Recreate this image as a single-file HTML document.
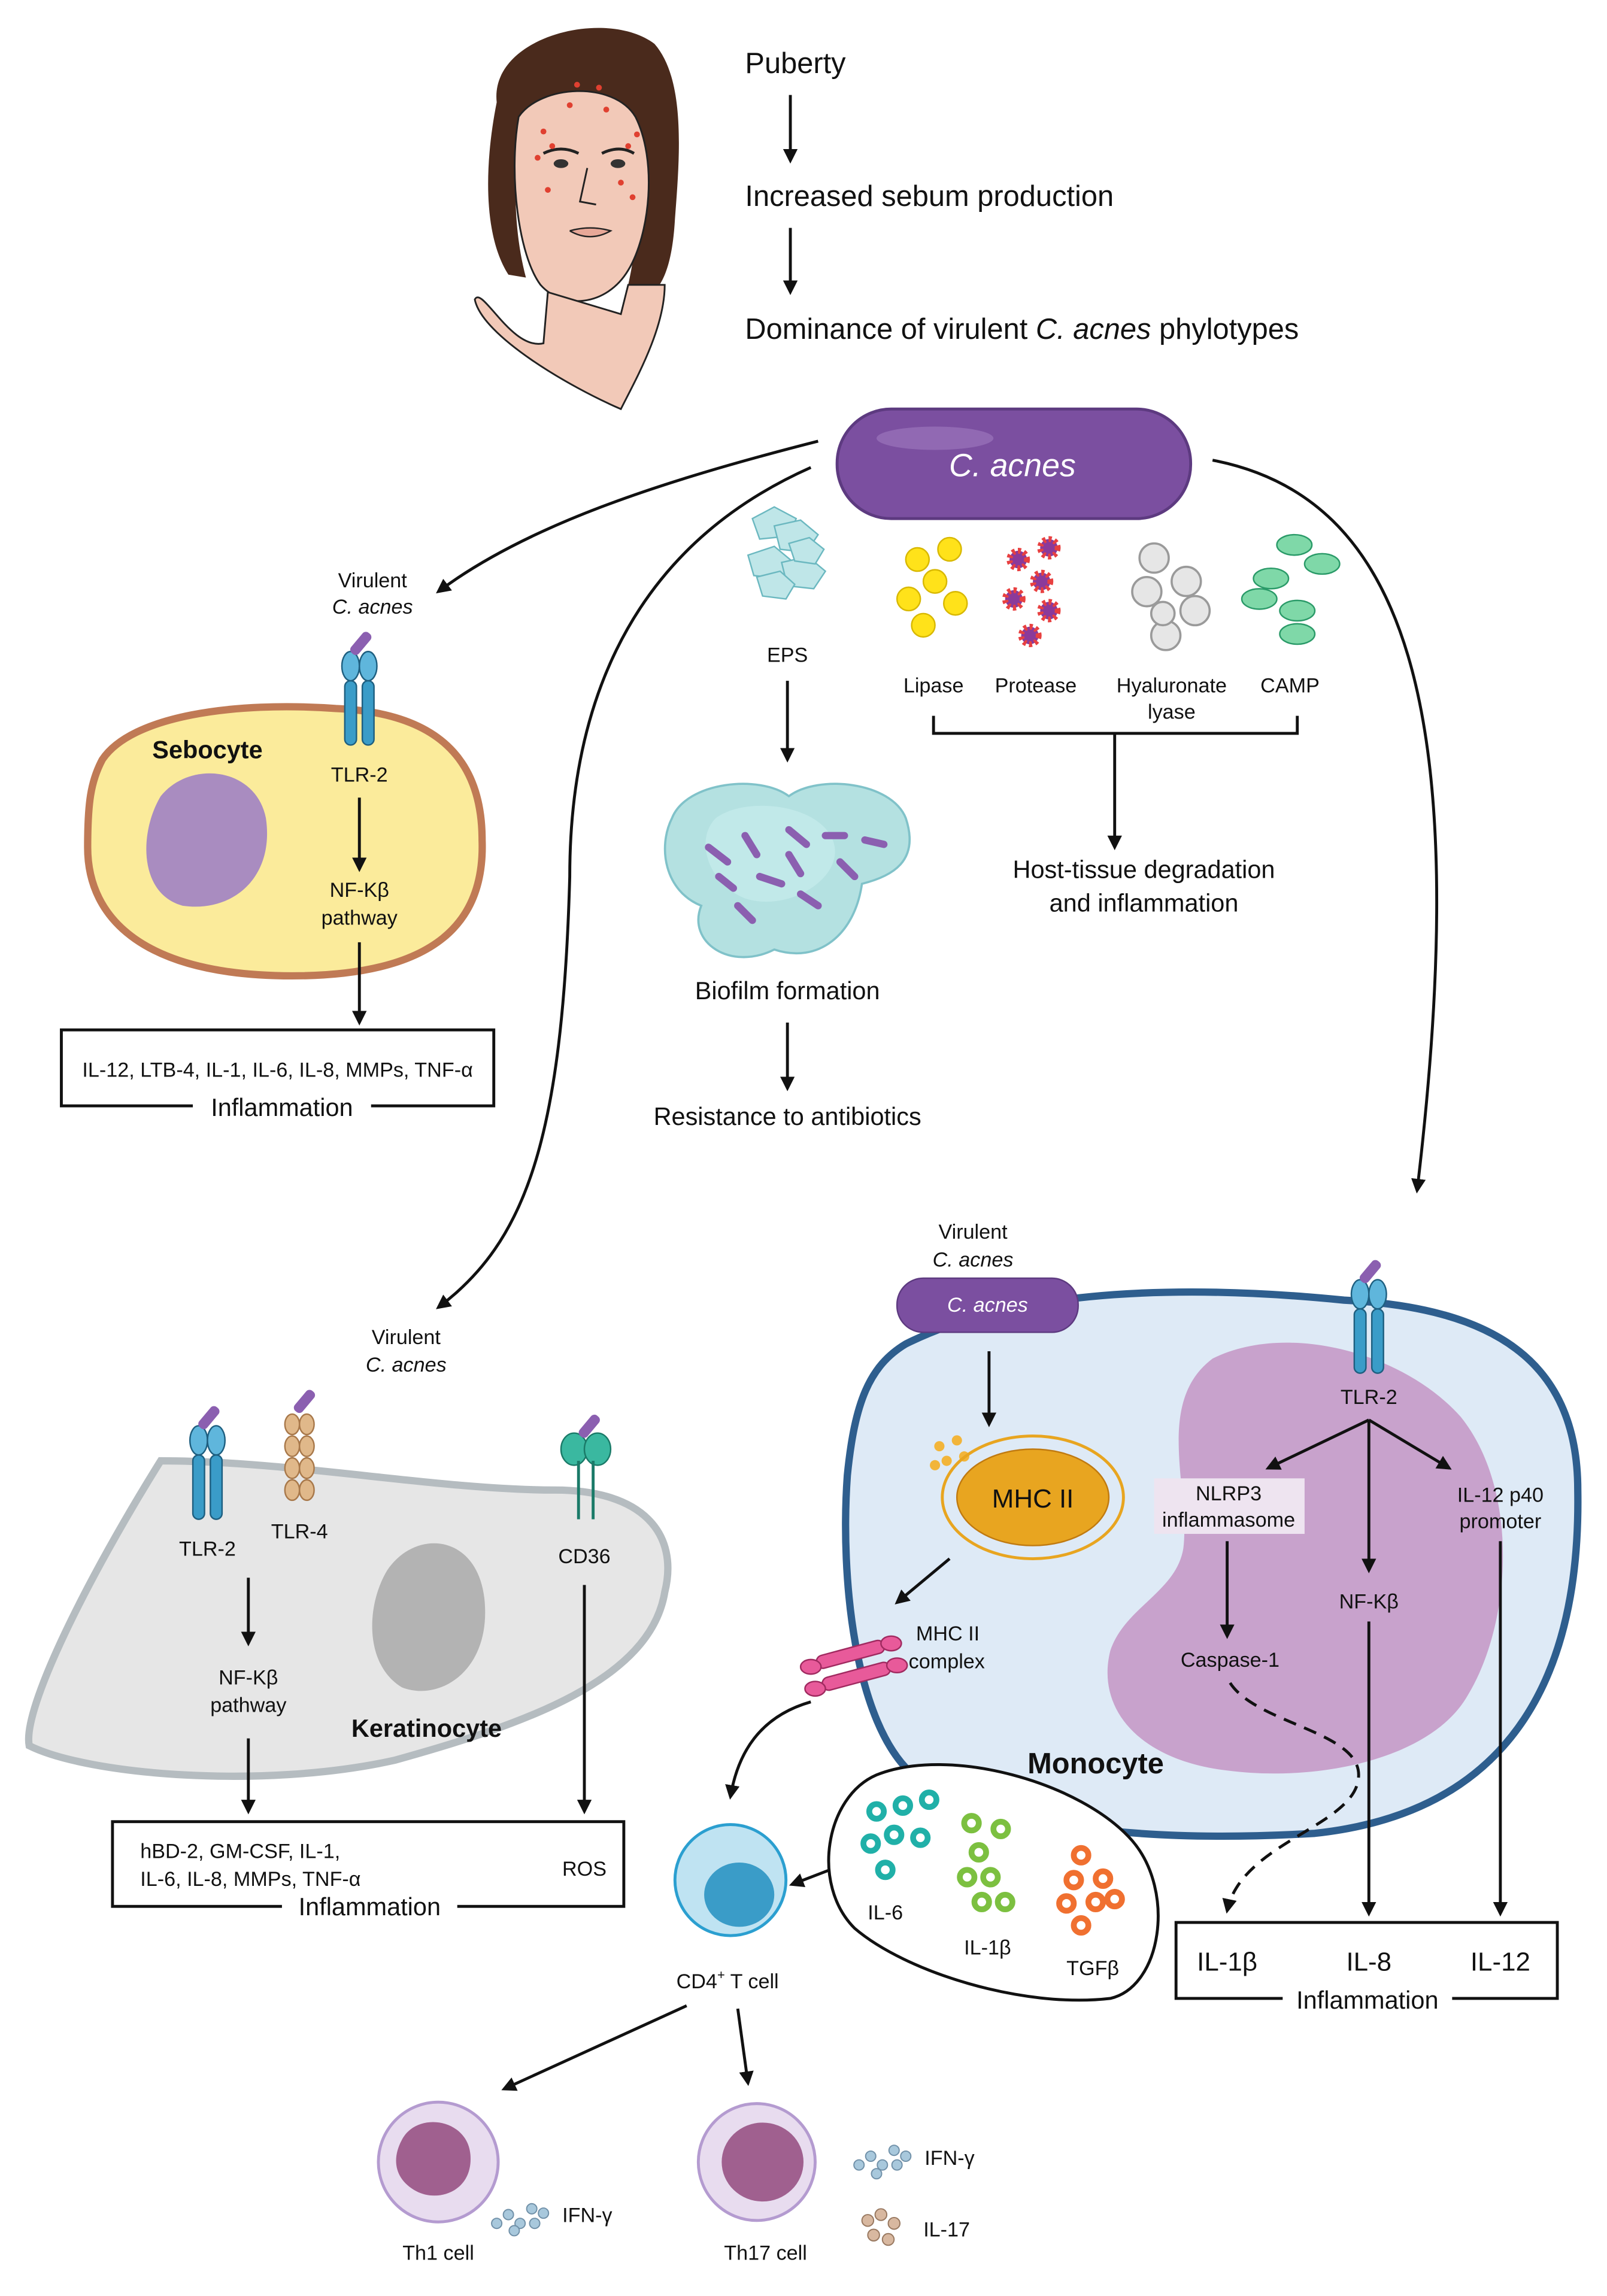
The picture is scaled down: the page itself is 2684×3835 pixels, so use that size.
<!DOCTYPE html>
<html><head><meta charset="utf-8"><style>
html,body{margin:0;padding:0;background:#fff;}
svg{display:block;}
text{font-family:"Liberation Sans",sans-serif;fill:#111;}
</style></head><body>
<svg width="2684" height="3835" viewBox="0 0 1100 1571.7" xmlns="http://www.w3.org/2000/svg">
<defs>
<marker id="ah" markerWidth="10" markerHeight="10" refX="8" refY="5" orient="auto" markerUnits="userSpaceOnUse">
<path d="M0,0 L10,5 L0,10 Z" fill="#111"/></marker>
<g id="tlr">
<rect x="-10" y="-4" width="8" height="44" rx="4" fill="#3a9cc8" stroke="#1e5f80" stroke-width="1"/>
<rect x="2" y="-4" width="8" height="44" rx="4" fill="#3a9cc8" stroke="#1e5f80" stroke-width="1"/>
<ellipse cx="-6" cy="-14" rx="6" ry="10" fill="#5fb6dc" stroke="#1e5f80" stroke-width="1"/>
<ellipse cx="6" cy="-14" rx="6" ry="10" fill="#5fb6dc" stroke="#1e5f80" stroke-width="1"/>
<rect x="-2" y="-38" width="7" height="18" rx="3" fill="#8b5fb0" transform="rotate(40 2 -30)"/>
</g>
<g id="dot"><circle r="5" fill="none" stroke-width="4"/></g>
</defs>

<!-- Face -->
<path d="M340,70 C335,25 415,5 448,30 C470,55 465,110 462,150 C460,185 452,200 440,205 L430,195 C440,150 440,100 425,75 C405,58 372,62 358,82 C350,120 352,160 360,190 L348,188 C330,160 332,110 340,70Z" fill="#4a2a1c"/>
<path d="M355,80 C370,58 420,55 435,80 C450,110 445,160 430,185 C415,210 385,212 370,195 C355,175 348,120 355,80Z" fill="#f2c9b8" stroke="#222" stroke-width="1.2"/>
<path d="M375,200 L372,235 C350,240 330,195 325,205 C330,230 390,265 425,280 C435,260 455,225 455,195 L430,195 L425,215 Z" fill="#f2c9b8" stroke="#222" stroke-width="1.2"/>
<path d="M372,105 q12,-6 24,0 M412,105 q12,-6 22,0" stroke="#222" stroke-width="2" fill="none"/>
<ellipse cx="384" cy="112" rx="5" ry="3" fill="#333"/><ellipse cx="423" cy="112" rx="5" ry="3" fill="#333"/>
<path d="M402,115 L397,138 L408,140" stroke="#222" fill="none" stroke-width="1.2"/>
<path d="M390,158 q14,8 28,0 q-14,-4 -28,0" stroke="#222" fill="#e8a898" stroke-width="1"/>
<g fill="#e04030"><circle cx="395" cy="58" r="2"/><circle cx="410" cy="60" r="2"/><circle cx="390" cy="72" r="2"/><circle cx="415" cy="75" r="2"/><circle cx="372" cy="90" r="2"/><circle cx="378" cy="100" r="2"/><circle cx="368" cy="108" r="2"/><circle cx="430" cy="100" r="2"/><circle cx="436" cy="92" r="2"/><circle cx="425" cy="125" r="2"/><circle cx="433" cy="135" r="2"/><circle cx="375" cy="130" r="2"/></g>

<!-- Top text -->
<g font-size="20">
<text x="510" y="50">Puberty</text>
<text x="510" y="141">Increased sebum production</text>
<text x="510" y="232">Dominance of virulent <tspan font-style="italic">C. acnes</tspan> phylotypes</text>
</g>
<line x1="541" y1="65" x2="541" y2="110" stroke="#111" stroke-width="2" marker-end="url(#ah)"/>
<line x1="541" y1="156" x2="541" y2="200" stroke="#111" stroke-width="2" marker-end="url(#ah)"/>

<!-- C. acnes pill -->
<rect x="573" y="280" width="242" height="75" rx="37" fill="#7b4fa0" stroke="#5d3a80" stroke-width="2"/>
<ellipse cx="640" cy="300" rx="40" ry="8" fill="#a07cc0" opacity="0.6"/>
<text x="693" y="326" font-size="22" font-style="italic" text-anchor="middle" style="fill:#fff">C. acnes</text>

<!-- Big curves -->
<g fill="none" stroke="#111" stroke-width="2" marker-end="url(#ah)">
<path d="M560,302 C450,330 360,360 300,405"/>
<path d="M830,315 C960,340 1010,480 970,815"/>
<path d="M555,320 C420,380 390,500 390,600 C385,780 360,850 300,895"/>
</g>

<!-- EPS -->
<g fill="#bfe6e8" stroke="#6bb8c0" stroke-width="1">
<path d="M515,355 l15,-8 15,8 -5,12 -20,2z"/><path d="M530,360 l18,-4 12,10 -8,12 -18,-2z"/>
<path d="M512,380 l18,-6 12,10 -6,12 -20,-2z"/><path d="M535,385 l18,-4 12,10 -8,12 -18,-2z"/>
<path d="M518,395 l16,-4 10,9 -6,10 -16,-2z"/><path d="M540,372 l14,-4 10,8 -6,10 -14,-2z"/>
</g>
<text x="539" y="453" font-size="14" text-anchor="middle">EPS</text>
<line x1="539" y1="466" x2="539" y2="520" stroke="#111" stroke-width="2" marker-end="url(#ah)"/>

<!-- Biofilm -->
<path d="M460,560 C470,535 520,530 540,545 C560,530 610,535 620,560 C630,590 610,600 590,605 C585,640 560,660 530,650 C500,665 470,645 480,620 C455,610 450,580 460,560Z" fill="#a8dcdc" stroke="#6bb8c0" stroke-width="1.5" opacity="0.85"/>
<path d="M490,560 C510,545 560,550 570,575 C580,600 540,625 510,615 C485,605 475,575 490,560Z" fill="#c6ecec" opacity="0.7"/>
<g stroke="#8b5fb0" stroke-width="5" stroke-linecap="round">
<line x1="485" y1="580" x2="498" y2="590"/><line x1="510" y1="572" x2="518" y2="585"/><line x1="540" y1="568" x2="552" y2="578"/>
<line x1="565" y1="572" x2="578" y2="572"/><line x1="592" y1="575" x2="605" y2="578"/><line x1="520" y1="600" x2="535" y2="605"/>
<line x1="548" y1="612" x2="560" y2="620"/><line x1="575" y1="590" x2="585" y2="600"/><line x1="505" y1="620" x2="515" y2="630"/>
<line x1="540" y1="585" x2="548" y2="598"/><line x1="492" y1="600" x2="502" y2="608"/>
</g>
<text x="539" y="684" font-size="17" text-anchor="middle">Biofilm formation</text>
<line x1="539" y1="700" x2="539" y2="745" stroke="#111" stroke-width="2" marker-end="url(#ah)"/>
<text x="539" y="770" font-size="17" text-anchor="middle">Resistance to antibiotics</text>

<!-- Lipase -->
<g fill="#ffe21a" stroke="#d8b800" stroke-width="1">
<circle cx="628" cy="383" r="8"/><circle cx="650" cy="376" r="8"/><circle cx="640" cy="398" r="8"/><circle cx="622" cy="410" r="8"/><circle cx="654" cy="413" r="8"/><circle cx="632" cy="428" r="8"/>
</g>
<!-- Protease -->
<g fill="#8b3a9a" stroke="#e84040" stroke-width="4" stroke-dasharray="2 2">
<circle cx="697" cy="383" r="6"/><circle cx="718" cy="375" r="6"/><circle cx="713" cy="398" r="6"/><circle cx="694" cy="410" r="6"/><circle cx="718" cy="418" r="6"/><circle cx="705" cy="435" r="6"/>
</g>
<!-- Hyaluronate -->
<g fill="#e6e6e6" stroke="#9a9a9a" stroke-width="1.5">
<circle cx="790" cy="382" r="10"/><circle cx="785" cy="405" r="10"/><circle cx="812" cy="398" r="10"/><circle cx="818" cy="418" r="10"/><circle cx="798" cy="435" r="10"/><circle cx="796" cy="420" r="8"/>
</g>
<!-- CAMP -->
<g fill="#7fd8a8" stroke="#2a9a68" stroke-width="1">
<ellipse cx="886" cy="373" rx="12" ry="7"/><ellipse cx="905" cy="386" rx="12" ry="7"/><ellipse cx="870" cy="396" rx="12" ry="7"/>
<ellipse cx="862" cy="410" rx="12" ry="7"/><ellipse cx="888" cy="418" rx="12" ry="7"/><ellipse cx="888" cy="434" rx="12" ry="7"/>
</g>
<g font-size="14" text-anchor="middle">
<text x="639" y="474">Lipase</text><text x="709" y="474">Protease</text><text x="802" y="474">Hyaluronate</text><text x="802" y="492">lyase</text><text x="883" y="474">CAMP</text>
</g>
<path d="M639,490 L639,502 L888,502 L888,490" fill="none" stroke="#111" stroke-width="2"/>
<line x1="763" y1="502" x2="763" y2="580" stroke="#111" stroke-width="2" marker-end="url(#ah)"/>
<text x="783" y="601" font-size="17" text-anchor="middle">Host-tissue degradation</text>
<text x="783" y="624" font-size="17" text-anchor="middle">and inflammation</text>

<!-- Sebocyte -->
<text x="255" y="402" font-size="14" text-anchor="middle">Virulent</text>
<text x="255" y="420" font-size="14" text-anchor="middle" font-style="italic">C. acnes</text>
<path d="M70,520 C90,490 160,480 230,485 C300,488 330,520 330,575 C332,630 300,668 200,668 C100,668 60,630 60,580 C60,550 62,535 70,520Z" fill="#fbeb9b" stroke="#c07a55" stroke-width="5"/>
<path d="M110,545 C130,520 175,525 182,560 C188,600 160,625 125,620 C95,612 95,570 110,545Z" fill="#a98cc0"/>
<text x="142" y="519" font-size="17" font-weight="bold" text-anchor="middle">Sebocyte</text>
<use href="#tlr" x="246" y="470"/>
<text x="246" y="535" font-size="14" text-anchor="middle">TLR-2</text>
<line x1="246" y1="546" x2="246" y2="595" stroke="#111" stroke-width="2" marker-end="url(#ah)"/>
<text x="246" y="614" font-size="14" text-anchor="middle">NF-Kβ</text>
<text x="246" y="633" font-size="14" text-anchor="middle">pathway</text>
<line x1="246" y1="645" x2="246" y2="700" stroke="#111" stroke-width="2" marker-end="url(#ah)"/>
<rect x="42" y="705" width="296" height="52" fill="#fff" stroke="#111" stroke-width="2"/>
<text x="190" y="737" font-size="14" text-anchor="middle">IL-12, LTB-4, IL-1, IL-6, IL-8, MMPs, TNF-α</text>
<rect x="132" y="748" width="122" height="20" fill="#fff"/>
<text x="193" y="764" font-size="17" text-anchor="middle">Inflammation</text>

<!-- Keratinocyte -->
<text x="278" y="920" font-size="14" text-anchor="middle">Virulent</text>
<text x="278" y="939" font-size="14" text-anchor="middle" font-style="italic">C. acnes</text>
<path d="M110,1000 C200,1000 300,1020 380,1020 C440,1020 465,1050 455,1090 C445,1150 360,1180 270,1205 C180,1225 60,1215 20,1195 C15,1170 60,1080 110,1000Z" fill="#e6e6e6" stroke="#b5bcc0" stroke-width="5"/>
<path d="M265,1075 C285,1045 330,1050 332,1100 C334,1145 300,1165 275,1155 C250,1140 250,1100 265,1075Z" fill="#b3b3b3"/>
<text x="292" y="1189" font-size="17" font-weight="bold" text-anchor="middle">Keratinocyte</text>
<use href="#tlr" x="142" y="1000"/>
<g fill="#e0b88a" stroke="#a8784a" stroke-width="1">
<ellipse cx="200" cy="975" rx="5" ry="7"/><ellipse cx="210" cy="975" rx="5" ry="7"/>
<ellipse cx="200" cy="990" rx="5" ry="7"/><ellipse cx="210" cy="990" rx="5" ry="7"/>
<ellipse cx="200" cy="1005" rx="5" ry="7"/><ellipse cx="210" cy="1005" rx="5" ry="7"/>
<ellipse cx="200" cy="1020" rx="5" ry="7"/><ellipse cx="210" cy="1020" rx="5" ry="7"/>
</g>
<rect x="205" y="950" width="7" height="18" rx="3" fill="#8b5fb0" transform="rotate(40 208 959)"/>
<g>
<ellipse cx="393" cy="992" rx="9" ry="11" fill="#3ab8a0" stroke="#1a7a68"/><ellipse cx="409" cy="992" rx="9" ry="11" fill="#3ab8a0" stroke="#1a7a68"/>
<line x1="396" y1="1000" x2="396" y2="1040" stroke="#1a7a68" stroke-width="2"/><line x1="406" y1="1000" x2="406" y2="1040" stroke="#1a7a68" stroke-width="2"/>
<rect x="400" y="967" width="7" height="18" rx="3" fill="#8b5fb0" transform="rotate(40 403 976)"/>
</g>
<g font-size="14" text-anchor="middle">
<text x="142" y="1065">TLR-2</text><text x="205" y="1053">TLR-4</text><text x="400" y="1070">CD36</text>
<text x="170" y="1153">NF-Kβ</text><text x="170" y="1172">pathway</text>
</g>
<line x1="170" y1="1080" x2="170" y2="1125" stroke="#111" stroke-width="2" marker-end="url(#ah)"/>
<line x1="170" y1="1190" x2="170" y2="1240" stroke="#111" stroke-width="2" marker-end="url(#ah)"/>
<line x1="400" y1="1085" x2="400" y2="1240" stroke="#111" stroke-width="2" marker-end="url(#ah)"/>
<rect x="77" y="1247" width="350" height="58" fill="#fff" stroke="#111" stroke-width="2"/>
<text x="96" y="1272" font-size="14">hBD-2, GM-CSF, IL-1,</text>
<text x="96" y="1291" font-size="14">IL-6, IL-8, MMPs, TNF-α</text>
<text x="400" y="1284" font-size="14" text-anchor="middle">ROS</text>
<rect x="193" y="1296" width="120" height="20" fill="#fff"/>
<text x="253" y="1311" font-size="17" text-anchor="middle">Inflammation</text>

<!-- Monocyte -->
<path d="M620,920 C700,880 820,880 920,890 C1020,895 1080,930 1080,1020 C1082,1140 1040,1240 900,1255 C780,1262 680,1250 625,1215 C585,1180 575,1080 580,1010 C585,960 595,935 620,920Z" fill="#deeaf6" stroke="#2e5e8e" stroke-width="5"/>
<path d="M830,930 C880,905 960,925 1000,970 C1040,1020 1035,1110 1005,1160 C980,1205 900,1220 840,1212 C780,1205 750,1170 760,1130 C770,1100 805,1090 810,1060 C815,1020 790,960 830,930Z" fill="#c8a2cc"/>
<text x="666" y="848" font-size="14" text-anchor="middle">Virulent</text>
<text x="666" y="867" font-size="14" text-anchor="middle" font-style="italic">C. acnes</text>
<rect x="614" y="875" width="124" height="37" rx="18" fill="#7b4fa0" stroke="#5d3a80"/>
<text x="676" y="898" font-size="14" font-style="italic" text-anchor="middle" style="fill:#fff">C. acnes</text>
<line x1="677" y1="925" x2="677" y2="975" stroke="#111" stroke-width="2" marker-end="url(#ah)"/>
<g fill="#f2b53a"><circle cx="643" cy="990" r="3.5"/><circle cx="655" cy="986" r="3.5"/><circle cx="648" cy="1000" r="3.5"/><circle cx="660" cy="997" r="3.5"/><circle cx="640" cy="1003" r="3.5"/></g>
<ellipse cx="707" cy="1025" rx="62" ry="42" fill="none" stroke="#e8a520" stroke-width="2"/>
<ellipse cx="707" cy="1025" rx="52" ry="33" fill="#e8a520" stroke="#c07a10"/>
<text x="707" y="1032" font-size="18" text-anchor="middle">MHC II</text>
<line x1="650" y1="1067" x2="614" y2="1097" stroke="#111" stroke-width="2" marker-end="url(#ah)"/>
<g fill="#e85a9a" stroke="#a02a60" stroke-width="1">
<rect x="558" y="1128" width="48" height="9" rx="4.5" transform="rotate(-15 582 1132)"/>
<rect x="562" y="1143" width="48" height="9" rx="4.5" transform="rotate(-15 586 1147)"/>
<ellipse cx="555" cy="1141" rx="7" ry="5"/><ellipse cx="610" cy="1125" rx="7" ry="5"/><ellipse cx="558" cy="1156" rx="7" ry="5"/><ellipse cx="614" cy="1140" rx="7" ry="5"/>
</g>
<text x="627" y="1123" font-size="14">MHC II</text>
<text x="622" y="1142" font-size="14">complex</text>
<path d="M555,1165 C520,1175 505,1200 500,1230" fill="none" stroke="#111" stroke-width="2" marker-end="url(#ah)"/>

<use href="#tlr" x="937" y="900"/>
<text x="937" y="961" font-size="14" text-anchor="middle">TLR-2</text>
<g stroke="#111" stroke-width="2" marker-end="url(#ah)" fill="none">
<line x1="937" y1="972" x2="868" y2="1005"/>
<line x1="937" y1="972" x2="937" y2="1075"/>
<line x1="937" y1="972" x2="992" y2="1005"/>
<line x1="840" y1="1055" x2="840" y2="1120"/>
<line x1="937" y1="1110" x2="937" y2="1310"/>
<line x1="1027" y1="1055" x2="1027" y2="1310"/>
</g>
<rect x="790" y="1012" width="103" height="38" fill="#eee4f0"/>
<text x="841" y="1027" font-size="14" text-anchor="middle">NLRP3</text>
<text x="841" y="1045" font-size="14" text-anchor="middle">inflammasome</text>
<text x="1027" y="1028" font-size="14" text-anchor="middle">IL-12 p40</text>
<text x="1027" y="1046" font-size="14" text-anchor="middle">promoter</text>
<text x="937" y="1101" font-size="14" text-anchor="middle">NF-Kβ</text>
<text x="842" y="1141" font-size="14" text-anchor="middle">Caspase-1</text>
<path d="M842,1152 C860,1180 930,1185 930,1215 C930,1250 850,1260 840,1308" fill="none" stroke="#111" stroke-width="2" stroke-dasharray="9 6" marker-end="url(#ah)"/>
<text x="750" y="1214" font-size="20" font-weight="bold" text-anchor="middle">Monocyte</text>

<rect x="805" y="1316" width="261" height="52" fill="#fff" stroke="#111" stroke-width="2"/>
<g font-size="18" text-anchor="middle"><text x="840" y="1349">IL-1β</text><text x="937" y="1349">IL-8</text><text x="1027" y="1349">IL-12</text></g>
<rect x="878" y="1360" width="116" height="20" fill="#fff"/>
<text x="936" y="1375" font-size="17" text-anchor="middle">Inflammation</text>

<!-- cytokine pouch -->
<path d="M600,1215 C650,1195 740,1220 775,1260 C805,1295 795,1360 760,1368 C700,1375 620,1350 585,1320 C555,1290 565,1230 600,1215Z" fill="#fff" stroke="#111" stroke-width="2"/>
<g stroke="#20b0a8"><use href="#dot" x="600" y="1240"/><use href="#dot" x="618" y="1236"/><use href="#dot" x="636" y="1232"/><use href="#dot" x="612" y="1256"/><use href="#dot" x="630" y="1258"/><use href="#dot" x="596" y="1262"/><use href="#dot" x="606" y="1280"/></g>
<g stroke="#7cc040"><use href="#dot" x="665" y="1248"/><use href="#dot" x="685" y="1252"/><use href="#dot" x="670" y="1268"/><use href="#dot" x="678" y="1285"/><use href="#dot" x="662" y="1285"/><use href="#dot" x="688" y="1302"/><use href="#dot" x="672" y="1302"/></g>
<g stroke="#f07030"><use href="#dot" x="740" y="1270"/><use href="#dot" x="735" y="1287"/><use href="#dot" x="755" y="1286"/><use href="#dot" x="730" y="1303"/><use href="#dot" x="763" y="1300"/><use href="#dot" x="740" y="1318"/><use href="#dot" x="750" y="1302"/></g>
<g font-size="14" text-anchor="middle"><text x="606" y="1314">IL-6</text><text x="676" y="1338">IL-1β</text><text x="748" y="1352">TGFβ</text></g>
<line x1="568" y1="1280" x2="542" y2="1290" stroke="#111" stroke-width="2" marker-end="url(#ah)"/>

<!-- CD4 T cell -->
<circle cx="500" cy="1287" r="38" fill="#bfe3f2" stroke="#2b9fd0" stroke-width="2"/>
<ellipse cx="506" cy="1297" rx="24" ry="22" fill="#3a9cc8"/>
<text x="498" y="1361" font-size="14" text-anchor="middle">CD4<tspan font-size="9" dy="-6">+</tspan><tspan dy="6"> T cell</tspan></text>
<line x1="470" y1="1373" x2="345" y2="1430" stroke="#111" stroke-width="2" marker-end="url(#ah)"/>
<line x1="505" y1="1375" x2="512" y2="1426" stroke="#111" stroke-width="2" marker-end="url(#ah)"/>

<!-- Th1 -->
<circle cx="300" cy="1480" r="41" fill="#e8dcef" stroke="#b49bd0" stroke-width="2"/>
<path d="M275,1465 C285,1445 320,1450 322,1475 C324,1500 300,1508 285,1500 C270,1492 268,1478 275,1465Z" fill="#a0608f"/>
<text x="300" y="1547" font-size="14" text-anchor="middle">Th1 cell</text>
<g fill="#a8c8dc" stroke="#7090a8" stroke-width="0.8"><circle cx="340" cy="1522" r="3.5"/><circle cx="348" cy="1516" r="3.5"/><circle cx="356" cy="1522" r="3.5"/><circle cx="364" cy="1512" r="3.5"/><circle cx="366" cy="1522" r="3.5"/><circle cx="352" cy="1527" r="3.5"/><circle cx="372" cy="1515" r="3.5"/></g>
<text x="402" y="1521" font-size="14" text-anchor="middle">IFN-γ</text>

<!-- Th17 -->
<circle cx="518" cy="1480" r="40" fill="#e8dcef" stroke="#b49bd0" stroke-width="2"/>
<ellipse cx="522" cy="1480" rx="28" ry="27" fill="#a0608f"/>
<text x="524" y="1547" font-size="14" text-anchor="middle">Th17 cell</text>
<g fill="#a8c8dc" stroke="#7090a8" stroke-width="0.8"><circle cx="588" cy="1482" r="3.5"/><circle cx="596" cy="1476" r="3.5"/><circle cx="604" cy="1482" r="3.5"/><circle cx="612" cy="1472" r="3.5"/><circle cx="614" cy="1482" r="3.5"/><circle cx="600" cy="1488" r="3.5"/><circle cx="620" cy="1476" r="3.5"/></g>
<text x="650" y="1482" font-size="14" text-anchor="middle">IFN-γ</text>
<g fill="#d8b8a0" stroke="#987860" stroke-width="0.8"><circle cx="594" cy="1520" r="4"/><circle cx="603" cy="1516" r="4"/><circle cx="612" cy="1522" r="4"/><circle cx="598" cy="1530" r="4"/><circle cx="608" cy="1533" r="4"/></g>
<text x="648" y="1531" font-size="14" text-anchor="middle">IL-17</text>
</svg>
</body></html>
